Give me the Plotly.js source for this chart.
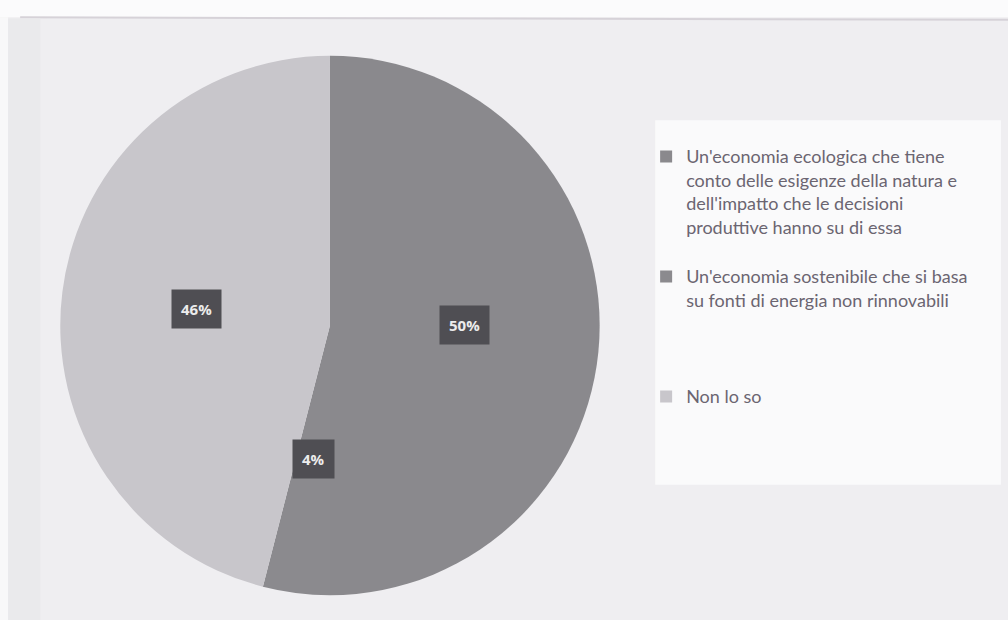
<!DOCTYPE html>
<html>
<head>
<meta charset="utf-8">
<script src="https://cdn.plot.ly/plotly-3.0.1.min.js"></script>
<style>html,body{margin:0;padding:0;background:#efeef1;}#chart{width:1008px;height:620px;}</style>
</head>
<body>
<div id="chart"></div>
<script>
// ---- data ----
const labels = [
  "Un'economia ecologica che tiene<br>conto delle esigenze della natura e<br>dell'impatto che le decisioni<br>produttive hanno su di essa",
  "Un'economia sostenibile che si basa<br>su fonti di energia non rinnovabili",
  "Non lo so"
];
const values = [50, 4, 46];
const sliceColors = ["#8a898d", "#8b8a8e", "#c8c6cb"];

// ---- layout geometry ----
const W = 1008, H = 620;
const domX = [0.0595, 0.5952];
const domY = [0.04, 0.91];

// extra blank lines so the legend entries are spread over the panel as in the original
const legendPad = ["<br> ", "<br> <br> <br> ", ""];
const legendText = labels.map((l, i) => l + legendPad[i]);

const trace = {
  type: 'pie',
  labels: legendText,
  values: values,
  sort: false,
  direction: 'clockwise',
  rotation: 0,
  textinfo: 'none',
  hoverinfo: 'percent',
  marker: {colors: sliceColors, line: {width: 0}},
  domain: {x: domX, y: domY},
  showlegend: true
};

// label positions derived from the data: half radius at each slice's mid angle
const total = values.reduce((a, b) => a + b, 0);
const pxW = (domX[1] - domX[0]) * W, pxH = (domY[1] - domY[0]) * H;
const R = Math.min(pxW, pxH) / 2;
const cx = (domX[0] + domX[1]) / 2, cy = (domY[0] + domY[1]) / 2;
let cum = 0;
const annotations = values.map(v => {
  const mid = (cum + v / 2) / total * 2 * Math.PI;
  cum += v;
  return {
    xref: 'paper', yref: 'paper',
    x: cx + 0.5 * R * Math.sin(mid) / W,
    y: cy + 0.5 * R * Math.cos(mid) / H,
    text: '<b>' + Math.round(v / total * 100) + '%</b>',
    showarrow: false,
    font: {family: '"Open Sans", Lato, sans-serif', size: 15, color: '#ececec'},
    bgcolor: '#4f4e53',
    borderpad: 9,
    xanchor: 'center', yanchor: 'middle'
  };
});

const layout = {
  width: W, height: H,
  margin: {l: 0, r: 0, t: 0, b: 0},
  paper_bgcolor: '#efeef1',
  font: {family: 'Lato, "Open Sans", sans-serif'},
  showlegend: true,
  legend: {
    x: 0.641, y: 0.777, xanchor: 'left', yanchor: 'top',
    bgcolor: 'rgba(0,0,0,0)',
    font: {size: 18, color: '#6b6571'},
    valign: 'top',
    itemclick: false
  },
  shapes: [
    {type: 'rect', xref: 'paper', yref: 'paper', x0: 0.65, x1: 0.993, y0: 0.218, y1: 0.806,
     fillcolor: '#fafafb', line: {width: 0}, layer: 'below'},
    {type: 'rect', xref: 'paper', yref: 'paper', x0: 0, x1: 1, y0: 0.972, y1: 1,
     fillcolor: '#fbfbfc', line: {width: 0}, layer: 'below'},
    {type: 'line', xref: 'paper', yref: 'paper', x0: 0.02, x1: 1, y0: 0.972, y1: 0.968,
     line: {color: '#d6d2d8', width: 2}, layer: 'below'},
    {type: 'rect', xref: 'paper', yref: 'paper', x0: 0, x1: 0.008, y0: 0, y1: 0.972,
     fillcolor: '#f8f8f9', line: {width: 0}, layer: 'below'},
    {type: 'rect', xref: 'paper', yref: 'paper', x0: 0.008, x1: 0.04, y0: 0, y1: 0.97,
     fillcolor: '#eaeaec', line: {width: 0}, layer: 'below'}
  ],
  annotations: annotations
};

Plotly.newPlot('chart', [trace], layout, {displayModeBar: false, staticPlot: true});
</script>
</body>
</html>
